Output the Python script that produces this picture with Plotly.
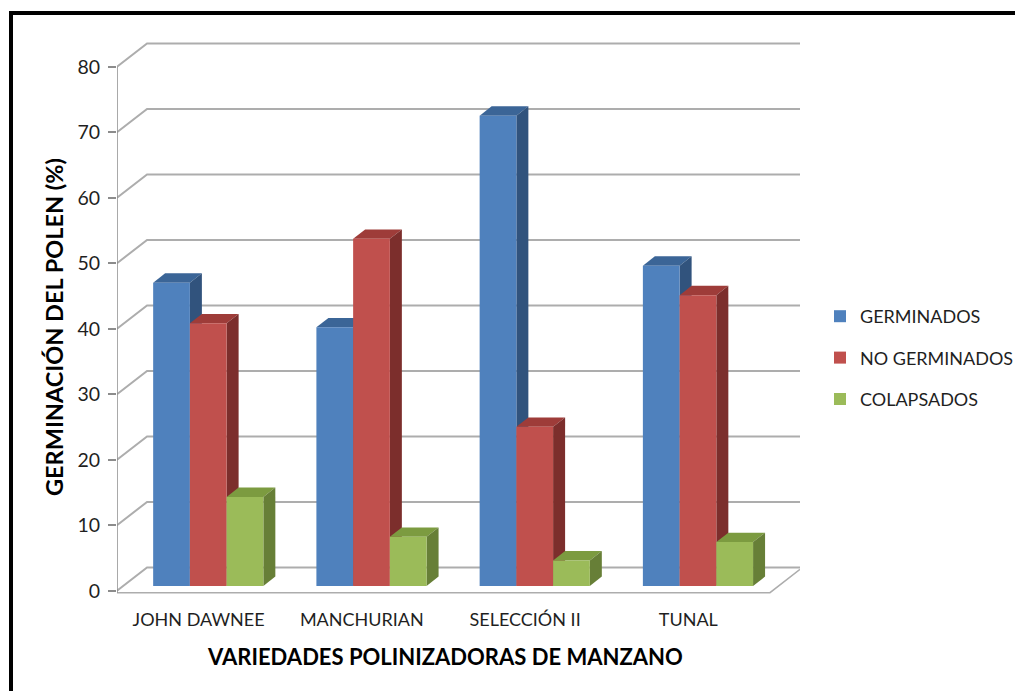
import plotly.graph_objects as go

# ---- data -------------------------------------------------------------
categories = ["JOHN DAWNEE", "MANCHURIAN", "SELECCIÓN II", "TUNAL"]
series_names = ["GERMINADOS", "NO GERMINADOS", "COLAPSADOS"]
germinados = [46.3, 39.5, 71.8, 48.9]
no_germinados = [40.1, 53.0, 24.3, 44.4]
colapsados = [13.6, 7.5, 3.9, 6.7]
y_ticks = [0, 10, 20, 30, 40, 50, 60, 70, 80]

series_values = [germinados, no_germinados, colapsados]

# ---- styling ----------------------------------------------------------
front_colors = ["#4F81BD", "#C0504D", "#9BBB59"]
top_colors = ["#3B6597", "#9E3C39", "#7C9B40"]
side_colors = ["#31537D", "#7C2E2C", "#677F37"]
grid_color = "#ADADAD"
axis_color = "#8C8C8C"
text_color = "#1F1F1F"
FONT = "Lato"

# pseudo-3D geometry (x in category units, y in value units)
WALL_DX, WALL_DY = 0.184, 3.55     # depth of the back wall
BAR_W = 0.225                      # width of each bar front
GROUP_SHIFT = 0.059                # bars sit slightly behind the front plane
BAR_BASE = 0.72
BAR_DX, BAR_DY = 0.0735, 1.43      # bar depth
FLOOR_Y = -0.3

W, H = 1015, 691
ML, MR, MT, MB = 117, 215, 40, 95
PW, PH = W - ML - MR, H - MT - MB
X_RANGE = [-0.5, len(categories) - 0.5 + WALL_DX]
Y_RANGE = [-0.81, 84.08]


def px_x(p):
    return (p - ML) / PW


def px_y(p):
    return (H - MB - p) / PH


fig = go.Figure()

shapes = []

# back wall gridlines with their left-wall diagonals
for v in y_ticks:
    shapes.append(dict(
        type="path", xref="x", yref="y", layer="below",
        path=(f"M {X_RANGE[0]},{v} L {X_RANGE[0] + WALL_DX},{v + WALL_DY} "
              f"L {X_RANGE[1]},{v + WALL_DY}"),
        line=dict(color=grid_color, width=2),
    ))

# floor outline
shapes.append(dict(
    type="path", xref="x", yref="y", layer="below",
    path=(f"M {X_RANGE[0]},{FLOOR_Y} L {X_RANGE[1] - WALL_DX},{FLOOR_Y} "
          f"L {X_RANGE[1]},{FLOOR_Y + WALL_DY}"),
    line=dict(color=grid_color, width=1.5),
))

# front value axis line
shapes.append(dict(
    type="line", xref="x", yref="y", layer="below",
    x0=X_RANGE[0], x1=X_RANGE[0], y0=FLOOR_Y, y1=y_ticks[-1],
    line=dict(color=axis_color, width=1.5),
))

# top and side faces of every bar
for s, values in enumerate(series_values):
    for i, v in enumerate(values):
        x0 = i + GROUP_SHIFT + (s - 1) * BAR_W - BAR_W / 2
        x1 = x0 + BAR_W
        top = BAR_BASE + v
        shapes.append(dict(
            type="path", xref="x", yref="y", layer="below",
            path=(f"M {x0},{top} L {x1},{top} L {x1 + BAR_DX},{top + BAR_DY} "
                  f"L {x0 + BAR_DX},{top + BAR_DY} Z"),
            fillcolor=top_colors[s], line=dict(width=0),
        ))
        shapes.append(dict(
            type="path", xref="x", yref="y", layer="below",
            path=(f"M {x1},{BAR_BASE} L {x1},{top} L {x1 + BAR_DX},{top + BAR_DY} "
                  f"L {x1 + BAR_DX},{BAR_BASE + BAR_DY} Z"),
            fillcolor=side_colors[s], line=dict(width=0),
        ))

# front faces
for s, (name, values) in enumerate(zip(series_names, series_values)):
    fig.add_trace(go.Bar(
        x=[i + GROUP_SHIFT + (s - 1) * BAR_W for i in range(len(categories))],
        y=values,
        base=BAR_BASE,
        width=BAR_W,
        name=name,
        legendgroup=name,
        marker=dict(color=front_colors[s], line=dict(width=0)),
        hoverinfo="skip",
    ))

# outer frame (open at right and bottom)
shapes.append(dict(
    type="rect", xref="paper", yref="paper", layer="above",
    x0=px_x(11), x1=px_x(1040), y0=px_y(13), y1=px_y(720),
    line=dict(color="black", width=4),
))

annotations = [
    dict(text="<b>VARIEDADES POLINIZADORAS DE MANZANO</b>",
         xref="paper", yref="paper", x=px_x(444.5), y=px_y(656),
         xanchor="center", yanchor="middle", showarrow=False,
         font=dict(family=FONT, size=22, color="black")),
    dict(text="<b>GERMINACIÓN DEL POLEN (%)</b>",
         xref="paper", yref="paper", x=px_x(54), y=px_y(327),
         xanchor="center", yanchor="middle", showarrow=False, textangle=-90,
         font=dict(family=FONT, size=23.5, color="black")),
]

fig.update_layout(
    width=W, height=H,
    margin=dict(l=ML, r=MR, t=MT, b=MB, autoexpand=False),
    paper_bgcolor="white", plot_bgcolor="white",
    barmode="overlay",
    shapes=shapes,
    annotations=annotations,
    showlegend=True,
    legend=dict(
        x=px_x(820), y=px_y(298), xanchor="left", yanchor="top",
        font=dict(family=FONT, size=18, color=text_color),
        tracegroupgap=15, bgcolor="rgba(0,0,0,0)",
    ),
    xaxis=dict(
        range=X_RANGE, tickvals=list(range(len(categories))), ticktext=categories,
        showgrid=False, zeroline=False, showline=False, ticks="",
        tickfont=dict(family=FONT, size=18, color=text_color),
        ticklabelstandoff=11, fixedrange=True,
    ),
    yaxis=dict(
        range=Y_RANGE, tickvals=y_ticks, showgrid=False, zeroline=False,
        showline=False, ticks="outside", ticklen=8, tickwidth=1.5,
        tickcolor=axis_color,
        tickfont=dict(family=FONT, size=19.5, color=text_color),
        ticklabelstandoff=4, fixedrange=True,
    ),
)

fig.write_html("out.html")
